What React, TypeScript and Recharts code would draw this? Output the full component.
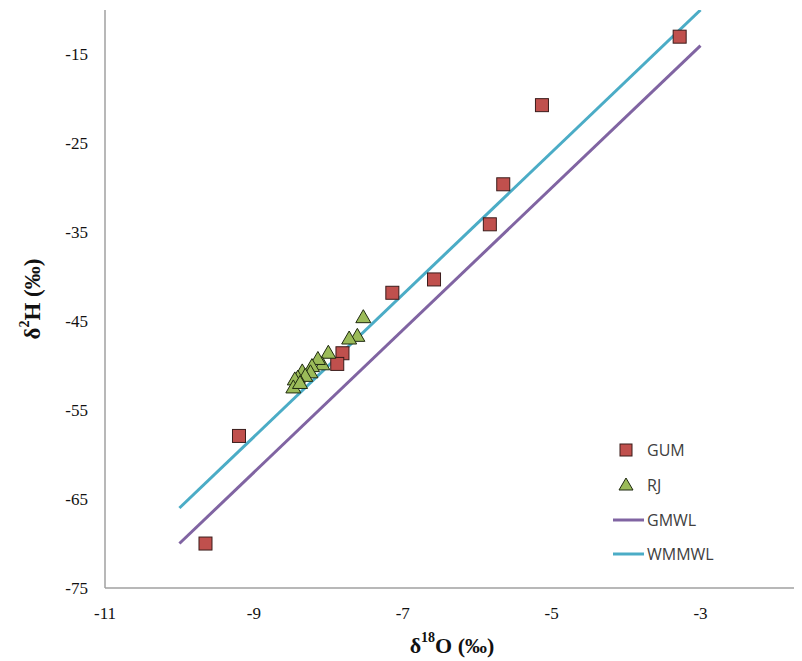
import { ScatterChart, Scatter, XAxis, YAxis, Legend, Label } from "recharts";

// GUM samples (δ18O, δ2H)
const gumO = [-9.65, -9.2, -7.14, -6.58, -5.83, -5.65, -5.13, -3.28, -7.81, -7.88];
const gumH = [-70, -57.9, -41.8, -40.3, -34.1, -29.6, -20.7, -13, -48.6, -49.8];

// RJ samples
const rjO = [-7.53, -7.61, -7.72, -8.0, -8.08, -8.14, -8.22, -8.24, -8.35, -8.31, -8.41, -8.45, -8.47, -8.38];
const rjH = [-44.6, -46.7, -47.0, -48.6, -49.9, -49.3, -50.1, -50.8, -50.7, -51.2, -51.4, -51.6, -52.5, -52.0];

// meteoric water lines (end points)
const gmwlO = [-10, -3];
const gmwlH = [-70, -14];
const wmmwlO = [-10, -3];
const wmmwlH = [-66, -10];

const xTicks = [-11, -9, -7, -5, -3];
const yTicks = [-75, -65, -55, -45, -35, -25, -15];

const toPoints = (xs: number[], ys: number[]) => xs.map((x, i) => ({ x, y: ys[i] }));

const gumData = toPoints(gumO, gumH);
const rjData = toPoints(rjO, rjH);
const gmwlData = toPoints(gmwlO, gmwlH);
const wmmwlData = toPoints(wmmwlO, wmmwlH);

const RED = "#C0504D";
const GREEN = "#9BBB59";
const PURPLE = "#8064A2";
const CYAN = "#4BACC6";
const AXIS = "#a0a0a0";

const Square = (props: any) => {
  const { cx, cy } = props;
  if (cx == null || cy == null) return null;
  return <rect x={cx - 6.5} y={cy - 6.5} width={13} height={13} fill={RED} stroke="#3b1c1b" strokeWidth={1} />;
};

const Triangle = (props: any) => {
  const { cx, cy } = props;
  if (cx == null || cy == null) return null;
  const pts = `${cx},${cy - 8} ${cx + 7.5},${cy + 5} ${cx - 7.5},${cy + 5}`;
  return <polygon points={pts} fill={GREEN} stroke="#1f2a10" strokeWidth={1} />;
};

const NoDot = () => null;

const legendItems = [
  { name: "GUM", kind: "square" },
  { name: "RJ", kind: "triangle" },
  { name: "GMWL", kind: "line", color: PURPLE },
  { name: "WMMWL", kind: "line", color: CYAN },
];

const renderLegend = () => (
  <div style={{ fontFamily: "'Open Sans', sans-serif", fontSize: 16, color: "#404040" }}>
    {legendItems.map((it) => (
      <div key={it.name} style={{ display: "flex", alignItems: "center", height: 34.7 }}>
        <svg width={32} height={20} style={{ marginRight: 2 }}>
          {it.kind === "square" && (
            <rect x={7} y={4} width={12} height={12} fill={RED} stroke="#3b1c1b" />
          )}
          {it.kind === "triangle" && (
            <polygon points="13,3 20,15 6,15" fill={GREEN} stroke="#1f2a10" />
          )}
          {it.kind === "line" && <line x1={0} y1={10} x2={31} y2={10} stroke={it.color} strokeWidth={3} />}
        </svg>
        <span>{it.name}</span>
      </div>
    ))}
  </div>
);

const YTitle = () => (
  <text
    x={24}
    y={291}
    transform="rotate(-90, 24, 291)"
    textAnchor="middle"
    dominantBaseline="central"
    fontFamily="'Liberation Serif', serif"
    fontWeight="bold"
    fontSize={23}
    fill="#111"
  >
    <tspan>δ</tspan>
    <tspan dy={-8} fontSize={14}>2</tspan>
    <tspan dy={8}>H (‰)</tspan>
  </text>
);

const XTitle = () => (
  <text
    x={444}
    y={637}
    textAnchor="middle"
    dominantBaseline="central"
    fontFamily="'Liberation Serif', serif"
    fontWeight="bold"
    fontSize={22}
    fill="#111"
  >
    <tspan>δ</tspan>
    <tspan dy={-8} fontSize={14}>18</tspan>
    <tspan dy={8}>O (‰)</tspan>
  </text>
);

const tickStyle = { fontFamily: "'Liberation Serif', serif", fontSize: 17, fill: "#111" };

export default function App() {
  return (
    <div style={{ width: 794, height: 650, overflow: "hidden" }}>
      <ScatterChart width={794} height={650} margin={{ top: 2, right: 1, bottom: 0, left: 0 }}>
        <XAxis
          type="number"
          dataKey="x"
          domain={[-11, -1.65]}
          ticks={xTicks}
          allowDataOverflow
          tickLine={false}
          tickSize={0}
          tickMargin={19}
          height={70}
          axisLine={{ stroke: AXIS, strokeWidth: 1.5 }}
          tick={tickStyle}
        >
          <Label content={XTitle} />
        </XAxis>
        <XAxis
          xAxisId="top"
          orientation="top"
          type="number"
          dataKey="x"
          domain={[-11, -1.65]}
          height={0}
          tick={false}
          tickLine={false}
          axisLine={{ stroke: AXIS, strokeWidth: 1.5 }}
        />
        <YAxis
          type="number"
          dataKey="y"
          domain={[-75, -10]}
          ticks={yTicks}
          allowDataOverflow
          tickLine={false}
          tickSize={0}
          tickMargin={17}
          width={97}
          axisLine={{ stroke: AXIS, strokeWidth: 1.5 }}
          tick={tickStyle}
        >
          <Label content={YTitle} />
        </YAxis>
        <Legend
          layout="vertical"
          align="center"
          verticalAlign="middle"
          content={renderLegend}
          wrapperStyle={{ left: 605, top: 425, width: 160 }}
        />
        <Scatter
          name="GMWL"
          data={gmwlData}
          line={{ stroke: PURPLE, strokeWidth: 3 }}
          lineType="joint"
          shape={NoDot}
          isAnimationActive={false}
        />
        <Scatter
          name="WMMWL"
          data={wmmwlData}
          line={{ stroke: CYAN, strokeWidth: 3 }}
          lineType="joint"
          shape={NoDot}
          isAnimationActive={false}
        />
        <Scatter name="GUM" data={gumData} shape={Square} isAnimationActive={false} />
        <Scatter name="RJ" data={rjData} shape={Triangle} isAnimationActive={false} />
      </ScatterChart>
    </div>
  );
}
